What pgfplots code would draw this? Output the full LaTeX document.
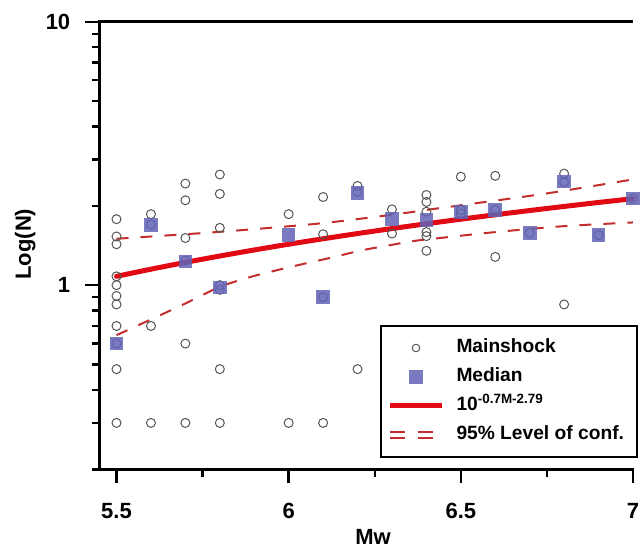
\documentclass[border=0pt]{standalone}
\usepackage{pgfplots}
\pgfplotsset{compat=1.18}
\usepackage{pgfplotstable}
\usepackage{fontspec}
\setmainfont{Liberation Sans}
\definecolor{sqcol}{RGB}{99,99,181}
\definecolor{fitred}{RGB}{225,10,20}
\definecolor{confred}{RGB}{195,45,45}
\definecolor{circ}{RGB}{85,85,85}

\pgfplotsset{
  markleg/.style={legend image code/.code={\draw[##1] plot coordinates {(13pt,0pt)};}},
  lineleg/.style={legend image code/.code={\draw[##1] (0pt,0pt) -- (26pt,0pt);}},
  dashleg/.style={legend image code/.code={\draw[##1, dash pattern=on 7.5pt off 6.5pt] (0pt,1.6pt) -- (26pt,1.6pt);
    \draw[##1, dash pattern=on 7.5pt off 6.5pt] (0pt,-1.6pt) -- (26pt,-1.6pt);}},
}

\pgfplotstableread{
x y
5.5 1.78
5.5 1.53
5.5 1.43
5.5 1.08
5.5 1.00
5.5 0.91
5.5 0.845
5.5 0.70
5.5 0.60
5.5 0.48
5.5 0.30
5.6 1.86
5.6 1.70
5.6 0.70
5.6 0.30
5.7 2.43
5.7 2.10
5.7 1.51
5.7 1.24
5.7 0.60
5.7 0.30
5.8 2.63
5.8 2.22
5.8 1.65
5.8 1.00
5.8 0.96
5.8 0.48
5.8 0.30
6.0 1.86
6.0 0.30
6.1 2.16
6.1 1.56
6.1 0.90
6.1 0.30
6.2 2.38
6.2 2.26
6.2 0.48
6.3 1.94
6.3 1.57
6.4 2.20
6.4 2.07
6.4 1.90
6.4 1.59
6.4 1.535
6.4 1.35
6.5 2.58
6.5 1.93
6.5 1.87
6.6 2.60
6.6 1.93
6.6 1.28
6.7 1.58
6.8 2.65
6.8 2.46
6.8 0.845
6.9 1.55
7.0 2.13
}\tblmainshock

\pgfplotstableread{
x y
5.5 0.60
5.6 1.69
5.7 1.23
5.8 0.98
6.0 1.55
6.1 0.90
6.2 2.24
6.3 1.78
6.4 1.77
6.5 1.90
6.6 1.93
6.7 1.58
6.8 2.47
6.9 1.55
7.0 2.13
}\tblmedian

\pgfplotstableread{
x y
5.5 1.08
5.6 1.15
5.7 1.22
5.8 1.29
5.9 1.36
6.0 1.43
6.1 1.50
6.2 1.57
6.3 1.64
6.4 1.71
6.5 1.78
6.6 1.85
6.7 1.92
6.8 1.99
6.9 2.06
7.0 2.13
}\tblfit

\pgfplotstableread{
x y
5.5 1.50
5.76 1.58
5.92 1.64
6.1 1.72
6.3 1.85
6.4 1.93
6.5 2.01
6.75 2.23
7.0 2.52
}\tblupper

\pgfplotstableread{
x y
5.5 0.646
5.6 0.741
5.7 0.852
5.8 0.985
5.89 1.075
5.97 1.143
6.05 1.21
6.13 1.277
6.21 1.354
6.29 1.415
6.37 1.475
6.45 1.515
6.6 1.59
6.8 1.675
7.0 1.73
}\tbllower

\begin{document}
\begin{tikzpicture}
\begin{axis}[
  scale only axis, width=266.85pt, height=223.8pt,
  ymode=log, xmin=5.45, xmax=7.0, ymin=0.2, ymax=10,
  axis lines*=left, clip=false,
  axis line style={line width=1.3pt, line cap=rect},
  tick align=outside,
  major tick length=7pt, minor tick length=3.8pt,
  every tick/.style={black, line width=1.2pt},
  xtick={5.5,6,6.5,7}, xticklabels={5.5,6,6.5,7},
  minor xtick={5.75,6.25,6.75},
  ytick={1,10}, yticklabels={1,10},
  minor ytick={0.2,0.3,0.4,0.5,0.6,0.7,0.8,0.9,2,3,4,5,6,7,8,9},
  tick label style={font=\fontsize{11}{13}\selectfont\bfseries},
  xticklabel style={yshift=-6.5pt},
  yticklabel style={xshift=-4pt},
  xlabel={Mw}, ylabel={Log(N)},
  label style={font=\fontsize{11}{13}\selectfont\bfseries},
  xlabel style={at={(axis description cs:0.513,-0.1515)}, anchor=center},
  ylabel style={at={(axis description cs:-0.1387,0.503)}, anchor=center},
  legend style={at={(1.0094,0.3224)}, anchor=north east, draw=black, line width=1pt,
    inner xsep=3.5pt, inner ysep=3.75pt, row sep=0pt, column sep=3pt,
    font=\fontsize{9.6}{11}\selectfont\bfseries,
    nodes={inner xsep=3pt, inner ysep=2.5pt, text height=7pt, text depth=2.5pt}},
  legend cell align=left,
]
\addlegendimage{only marks, mark=o, mark size=1.9pt, mark options={draw=circ, line width=0.5pt}, markleg}
\addlegendentry{Mainshock}
\addlegendimage{only marks, mark=square*, mark size=3.5pt, mark options={fill=sqcol, draw opacity=0, fill opacity=0.85}, markleg}
\addlegendentry{Median}
\addlegendimage{fitred, line width=2.5pt, lineleg}
\addlegendentry{10\textsuperscript{-0.7M-2.79}}
\addlegendimage{confred, line width=1pt, dashleg}
\addlegendentry{95\% Level of conf.}

\addplot[forget plot, fitred, line width=2.5pt, line cap=round, smooth] table {\tblfit};
\addplot[forget plot, confred, line width=1pt, dash pattern=on 6pt off 6pt, smooth] table {\tblupper};
\addplot[forget plot, confred, line width=1pt, dash pattern=on 6pt off 6pt, smooth] table {\tbllower};
\addplot[forget plot, only marks, mark=o, mark size=2.25pt, mark options={draw=circ, line width=0.5pt}] table {\tblmainshock};
\addplot[forget plot, only marks, mark=square*, mark size=3.4pt, mark options={fill=sqcol, draw opacity=0, fill opacity=0.85}] table {\tblmedian};

\draw[line width=1.3pt] (rel axis cs:0,1) -- (rel axis cs:1,1);
\end{axis}
\pgfresetboundingbox
\path[use as bounding box] (current axis.south west) ++(-49.65pt,-38.85pt) rectangle ++(321.5pt,273.5pt);
\end{tikzpicture}
\end{document}
